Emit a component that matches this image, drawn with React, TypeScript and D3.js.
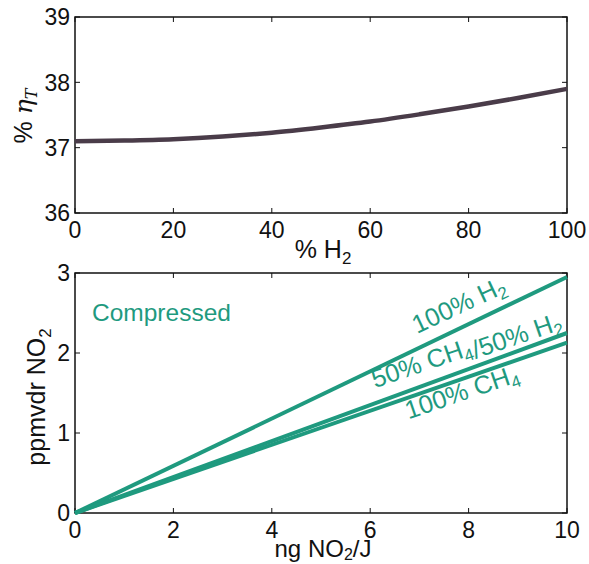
import React from 'react'
import { scaleLinear, line, curveMonotoneX } from 'd3'

// top panel: efficiency vs hydrogen fraction
const h2Pct = [0, 10, 20, 30, 40, 50, 60, 70, 80, 90, 100]
const etaT = [37.1, 37.11, 37.13, 37.17, 37.23, 37.31, 37.4, 37.51, 37.63, 37.76, 37.9]
const topXTicks = [0, 20, 40, 60, 80, 100]
const topYTicks = [36, 37, 38, 39]

// bottom panel: ppmvdr NO2 vs ng NO2/J
const fuels = ['100% H2', '50% CH4/50% H2', '100% CH4']
const ngNO2 = [0, 10]
const ppm = [
  [0, 2.95],
  [0, 2.25],
  [0, 2.13],
]
const botXTicks = [0, 2, 4, 6, 8, 10]
const botYTicks = [0, 1, 2, 3]

const W = 589, H = 564
const left = 75, right = 567
const FONT = 'Liberation Sans, Arial, sans-serif'
const TEAL = '#1f9a7f'
const PURPLE = '#4a3c49'

function Sub({ children, size = 17, dy = 6 }: { children: string, size?: number, dy?: number }) {
  return (
    <tspan fontSize={size} dy={dy}>{children}</tspan>
  )
}

function Frame({ x, y, yTicks, xTicks, top, bottom }: any) {
  const tl = 5
  return (
    <g>
      <rect x={left} y={top} width={right - left} height={bottom - top} fill="none" stroke="#111" strokeWidth={1.5} />
      {xTicks.map((t: number) => (
        <g key={'x' + t}>
          <line x1={x(t)} x2={x(t)} y1={bottom} y2={bottom - tl} stroke="#111" strokeWidth={1} />
          <line x1={x(t)} x2={x(t)} y1={top} y2={top + tl} stroke="#111" strokeWidth={1} />
          <text x={x(t)} y={bottom + 25} textAnchor="middle" fontSize={23} fontFamily={FONT} fill="#111">{t}</text>
        </g>
      ))}
      {yTicks.map((t: number) => (
        <g key={'y' + t}>
          <line x1={left} x2={left + tl} y1={y(t)} y2={y(t)} stroke="#111" strokeWidth={1} />
          <line x1={right} x2={right - tl} y1={y(t)} y2={y(t)} stroke="#111" strokeWidth={1} />
          <text x={70} y={y(t)} dy="0.36em" textAnchor="end" fontSize={23} fontFamily={FONT} fill="#111">{t}</text>
        </g>
      ))}
    </g>
  )
}

export default function App() {
  const topT = 17, topB = 213
  const botT = 273, botB = 513

  const xTop = scaleLinear().domain([0, 100]).range([left, right])
  const yTop = scaleLinear().domain([36, 39]).range([topB, topT])
  const xBot = scaleLinear().domain([0, 10]).range([left, right])
  const yBot = scaleLinear().domain([0, 3]).range([botB, botT])

  const topLine = line<number>()
    .x((_, i) => xTop(h2Pct[i]))
    .y((d) => yTop(d))
    .curve(curveMonotoneX)

  const botLine = line<number>()
    .x((_, i) => xBot(ngNO2[i]))
    .y((d) => yBot(d))

  // label start along line (data x) and vertical offset of the baseline (px)
  const labelAt = [6.95, 6.1, 6.78]
  const labelOff = [-15, -15, 22]
  const labelAng = [-25, -19, -19]

  return (
    <svg width={W} height={H} style={{ position: 'absolute', left: 0, top: 0 }}>
      <rect width={W} height={H} fill="#fff" />

      {/* top panel */}
      <Frame x={xTop} y={yTop} xTicks={topXTicks} yTicks={topYTicks} top={topT} bottom={topB} />
      <path d={topLine(etaT) || ''} fill="none" stroke={PURPLE} strokeWidth={4.5} />
      <text x={323} y={258} textAnchor="middle" fontSize={25} fontFamily={FONT} fill="#111">
        % H<Sub>2</Sub>
      </text>
      <text transform="translate(32,116) rotate(-90)" textAnchor="middle" fontSize={25} fontFamily={FONT} fill="#111">
        %{' '}
        <tspan fontFamily="DejaVu Serif, serif" fontStyle="italic">η</tspan>
        <tspan fontFamily="DejaVu Serif, serif" fontStyle="italic" fontSize={16} dy={5}>T</tspan>
      </text>

      {/* bottom panel */}
      <Frame x={xBot} y={yBot} xTicks={botXTicks} yTicks={botYTicks} top={botT} bottom={botB} />
      {ppm.map((s, i) => (
        <path key={i} d={botLine(s) || ''} fill="none" stroke={TEAL} strokeWidth={4} />
      ))}
      {fuels.map((f, i) => {
        const s = ppm[i]
        const xd = labelAt[i]
        const yd = s[0] + (s[1] - s[0]) * (xd - ngNO2[0]) / (ngNO2[1] - ngNO2[0])
        const px = xBot(xd)
        const py = yBot(yd) + labelOff[i]
        const parts = f.split(/(H2|CH4)/).filter((p) => p)
        return (
          <text key={f} transform={`translate(${px},${py}) rotate(${labelAng[i]})`}
            fontSize={25.5} fontFamily={FONT} fill={TEAL}>
            {parts.map((p, j) =>
              p === 'H2' ? <React.Fragment key={j}><tspan>H</tspan><tspan fontSize={17} dy={5}>2</tspan><tspan dy={-5}></tspan></React.Fragment>
                : p === 'CH4' ? <React.Fragment key={j}><tspan>CH</tspan><tspan fontSize={17} dy={5}>4</tspan><tspan dy={-5}></tspan></React.Fragment>
                  : <tspan key={j}>{p}</tspan>
            )}
          </text>
        )
      })}
      <text x={92} y={321} fontSize={24.5} fontFamily={FONT} fill={TEAL}>Compressed</text>
      <text x={323} y={557} textAnchor="middle" fontSize={24} fontFamily={FONT} fill="#111">
        ng NO<Sub size={16} dy={3}>2</Sub><tspan dy={-3}>/J</tspan>
      </text>
      <text transform="translate(45,397) rotate(-90)" textAnchor="middle" fontSize={25} fontFamily={FONT} fill="#111">
        ppmvdr NO<Sub>2</Sub>
      </text>
    </svg>
  )
}
